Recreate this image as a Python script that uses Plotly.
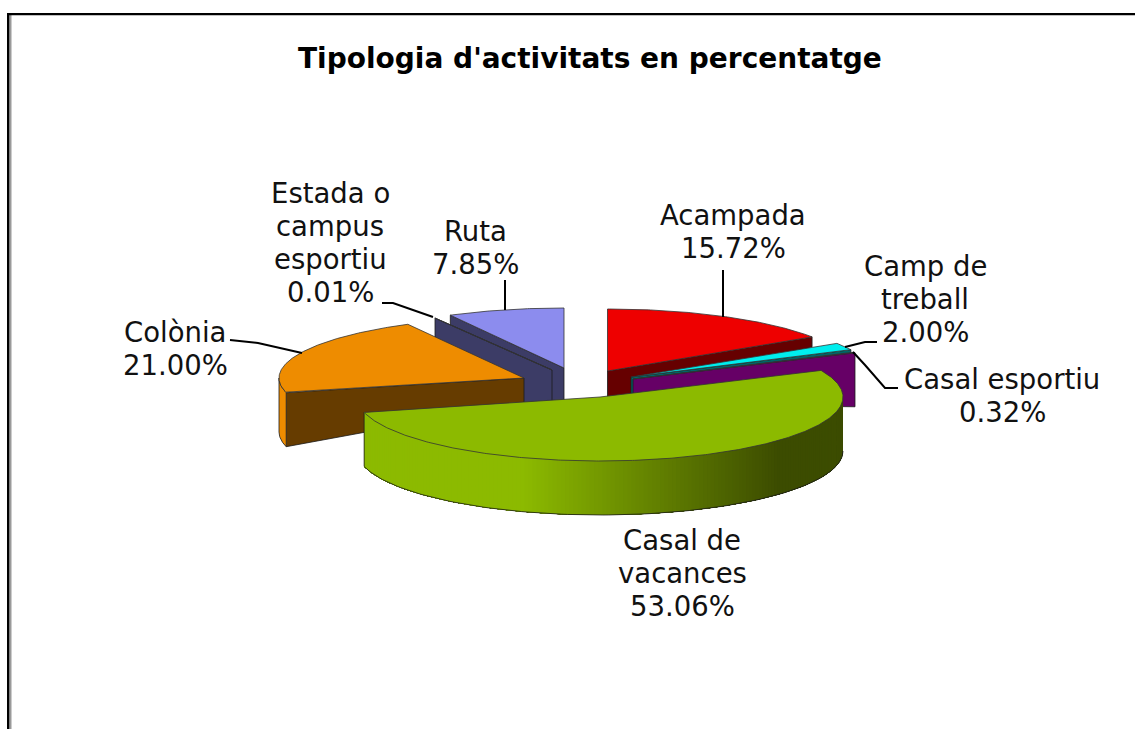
import numpy as np
import plotly.graph_objects as go

# --- data ---
CATEGORIES = ["Acampada", "Camp de treball", "Casal esportiu", "Casal de vacances",
              "Colònia", "Estada o campus esportiu", "Ruta"]
VALUES = [15.72, 2.00, 0.32, 53.06, 21.00, 0.01, 7.85]
LABEL_NAMES = [["Acampada"], ["Camp de", "treball"], ["Casal esportiu"], ["Casal de", "vacances"],
               ["Colònia"], ["Estada o", "campus", "esportiu"], ["Ruta"]]
TITLE = "Tipologia d'activitats en percentatge"

# --- styling / geometry ---
TOP = ["#ee0000", "#00eeee", "#660066", "#8cba00", "#ee8c00", "#3c3c66", "#8c8cee"]
WALL = ["#660000", "#006666", "#660066", "#3c4c00", "#663c00", "#3c3c66", "#3c3c66"]
APEX_X = [607.5, 631, 633, 600, 524, 552, 564]
APEX_Y = [371, 377, 379, 397, 378, 370, 368]
RX = [245, 245, 245, 243, 245, 247, 240]
RY = [62, 62, 62, 64, 61, 59, 60]
WALL_SIDE = [1, 1, 1, None, 0, 1, 0]     # which cut edge of the slice shows a wall
D_APEX = [30, 20, 25, 54, 25, 55, 42]
D_RIM = [10, 5, 54, 54, 54, 19, 10]
DRAW_ORDER = [6, 5, 0, 1, 2, 4, 3]
LABEL_X = [733, 925, 1002, 682, 175, 330, 475]
LABEL_Y = [215, 266, 379, 540, 332, 193, 231]
LINE_STEP = 33
LEADERS = [
    ([723, 723], [270, 317]),
    ([877, 865, 845], [342, 342, 347]),
    ([898, 885, 865, 853], [388, 388, 365, 352]),
    ([230, 258, 302], [340, 343, 353]),
    ([382, 393, 433], [303, 303, 317]),
    ([505, 505], [280, 310]),
]

fractions = np.array(VALUES) / sum(VALUES)
edges = np.concatenate([[0], np.cumsum(fractions)]) * 360


def rim(i, a):
    r = np.radians(a)
    return APEX_X[i] + RX[i] * np.sin(r), APEX_Y[i] - RY[i] * np.cos(r)


def poly(fig, xs, ys, fill, line="#1a1a1a", width=0.8):
    fig.add_trace(go.Scatter(x=xs, y=ys, mode="lines", fill="toself", fillcolor=fill,
                             line=dict(color=line, width=width), hoverinfo="skip",
                             showlegend=False))


def mix(c0, c1, t):
    a = [int(c0[k:k + 2], 16) for k in (1, 3, 5)]
    b = [int(c1[k:k + 2], 16) for k in (1, 3, 5)]
    return "rgb(%d,%d,%d)" % tuple(round(p + (q - p) * t) for p, q in zip(a, b))


fig = go.Figure()

for i in DRAW_ORDER:
    a0, a1 = edges[i], edges[i + 1]
    ang = np.linspace(a0, a1, max(3, int((a1 - a0) * 2)))
    rx_pts, ry_pts = rim(i, ang)

    # rim wall facing the viewer
    lo, hi = max(a0, 90), min(a1, 270)
    if hi > lo:
        if i == 3:  # gradient across the big slice; each band runs to the far end so none leave gaps
            strips = np.linspace(lo, hi, 170)
            for s0 in strips[:-1]:
                sa = np.linspace(s0, hi, 80)
                sx, sy = rim(i, sa)
                t = np.clip((780 - sx[0]) / (780 - 525), 0, 1)
                col = mix(WALL[i], TOP[i], t)
                poly(fig, list(sx) + list(sx[::-1]),
                     list(sy) + list((sy + D_RIM[i])[::-1]), col, line=col, width=0)
            sa = np.linspace(lo, hi, 120)
            sx, sy = rim(i, sa)
            fig.add_trace(go.Scatter(x=list(sx) + [sx[-1]],
                                     y=list(sy + D_RIM[i]) + [sy[-1]], mode="lines",
                                     hoverinfo="skip",
                                     line=dict(color="#1a1a1a", width=0.8), showlegend=False))
        else:
            sa = np.linspace(lo, hi, 30)
            sx, sy = rim(i, sa)
            poly(fig, list(sx) + list(sx[::-1]),
                 list(sy) + list((sy + D_RIM[i])[::-1]), TOP[i])

    # cut-edge wall
    if WALL_SIDE[i] is not None:
        ex, ey = rim(i, a1 if WALL_SIDE[i] else a0)
        poly(fig, [APEX_X[i], ex, ex, APEX_X[i], APEX_X[i]],
             [APEX_Y[i], ey, ey + D_RIM[i], APEX_Y[i] + D_APEX[i], APEX_Y[i]], WALL[i])

    # top face
    poly(fig, [APEX_X[i]] + list(rx_pts) + [APEX_X[i]],
         [APEX_Y[i]] + list(ry_pts) + [APEX_Y[i]], TOP[i], line="#333333")

for lx, ly in LEADERS:
    fig.add_trace(go.Scatter(x=lx, y=ly, mode="lines", line=dict(color="black", width=2),
                             hoverinfo="skip", showlegend=False))

annotations = [dict(x=590, y=58, text="<b>%s</b>" % TITLE, showarrow=False,
                    font=dict(family="DejaVu Sans", size=28, color="black"))]
for name, v, x, y in zip(LABEL_NAMES, VALUES, LABEL_X, LABEL_Y):
    for k, line in enumerate(name + ["%.2f%%" % v]):
        annotations.append(dict(x=x, y=y + k * LINE_STEP, text=line, showarrow=False,
                                font=dict(family="DejaVu Sans", size=27.5, color="#111111")))

shapes = [
    dict(type="rect", x0=7, x1=9.5, y0=13, y1=729, fillcolor="black", line_width=0, layer="above"),
    dict(type="rect", x0=10, x1=11.5, y0=15, y1=729, fillcolor="#9a9a9a", line_width=0, layer="above"),
    dict(type="rect", x0=7, x1=1135, y0=13, y1=15.3, fillcolor="black", line_width=0, layer="above"),
]

fig.update_layout(
    width=1135, height=729, margin=dict(l=0, r=0, t=0, b=0),
    paper_bgcolor="white", plot_bgcolor="white", showlegend=False,
    annotations=annotations, shapes=shapes,
    xaxis=dict(range=[0, 1135], visible=False, fixedrange=True),
    yaxis=dict(range=[729, 0], visible=False, fixedrange=True),
)
fig.write_html("out.html", post_script="document.body.style.margin='0';",
               config=dict(displayModeBar=False))
